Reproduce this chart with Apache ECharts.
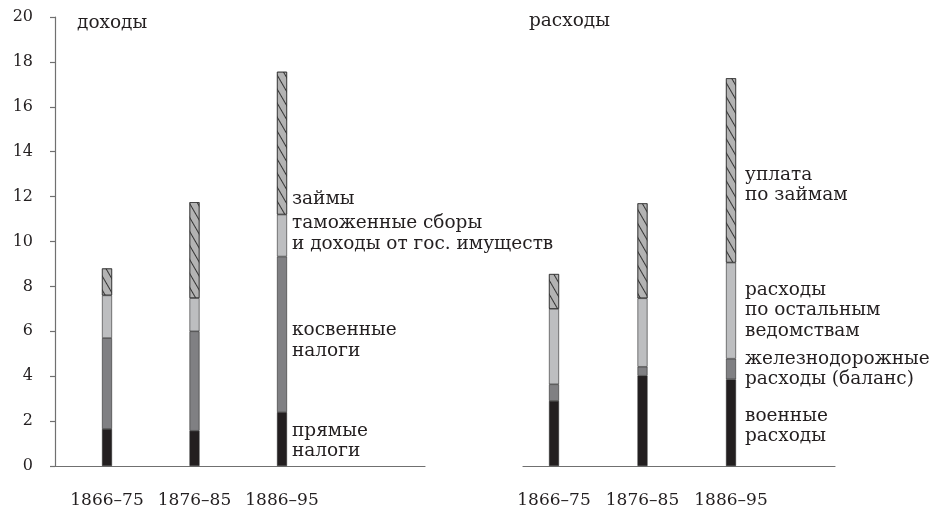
<!DOCTYPE html>
<html>
<head>
<meta charset="utf-8">
<script src="https://cdn.jsdelivr.net/npm/echarts@6/dist/echarts.min.js"></script>
<style>
html,body{margin:0;padding:0;background:#fff;}
#chart{width:934px;height:513px;}
</style>
</head>
<body>
<div id="chart"></div>
<script>
// ---- data ----
const categories = ['1866–75', '1876–85', '1886–95'];
const yTicks = [0, 2, 4, 6, 8, 10, 12, 14, 16, 18, 20];

// доходы (revenue)
const incomeDirect   = [1.65, 1.57, 2.40];   // прямые налоги
const incomeIndirect = [4.05, 4.43, 6.93];   // косвенные налоги
const incomeCustoms  = [1.90, 1.48, 1.87];   // таможенные сборы и доходы от гос. имуществ
const incomeLoans    = [1.20, 4.27, 6.36];   // займы

// расходы (expenditure)
const spendMilitary  = [2.90, 4.02, 3.86];   // военные расходы
const spendRailway   = [0.74, 0.40, 0.92];   // железнодорожные расходы (баланс)
const spendOther     = [3.36, 3.05, 4.28];   // расходы по остальным ведомствам
const spendDebt      = [1.55, 4.23, 8.21];   // уплата по займам

const incomeLabels = ['прямые\nналоги', 'косвенные\nналоги', 'таможенные сборы\nи доходы от гос. имуществ', 'займы'];
const spendLabels  = ['военные\nрасходы', 'железнодорожные\nрасходы (баланс)', 'расходы\nпо остальным\nведомствам', 'уплата\nпо займам'];

// ---- styles ----
const FONT = 'DejaVu Serif';
const TXT = '#231f20';
const AXIS = '#707070';
const fills = ['#231f20', '#808083', '#bdbec0', '#b3b3b3'];
const hatch = {
  symbol: 'rect', symbolSize: 1,
  dashArrayX: [1, 0], dashArrayY: [1, 5.5],
  rotation: Math.PI / 3, color: '#333333'
};
const labelPosLeft  = [['100%', '54%'], ['100%', '54%'], ['100%', '46%'], ['100%', '89%']];
const labelPosRight = [['100%', '54%'], ['100%', '50%'], ['100%', '50%'], ['100%', '58%']];

function makeSeries(name, values, idx, axisIdx, label, pos, gap) {
  return {
    type: 'bar',
    name: name,
    stack: 'g' + axisIdx,
    xAxisIndex: axisIdx,
    yAxisIndex: axisIdx,
    barWidth: 10,
    itemStyle: Object.assign({
      color: fills[idx], borderColor: '#2a2a2a', borderWidth: 0.6
    }, idx === 3 ? { decal: hatch } : {}),
    data: values.map((v, i) => i === categories.length - 1 ? {
      value: v,
      label: {
        show: true, formatter: label, position: pos,
        align: 'left', verticalAlign: 'middle', offset: [gap, 0],
        fontFamily: FONT, fontSize: 18.5, lineHeight: 20.5, color: TXT
      }
    } : v),
    animation: false
  };
}

const yRange = { min: yTicks[0], max: yTicks[yTicks.length - 1], interval: 2 };
const hiddenY = Object.assign({ type: 'value', show: false }, yRange);
const frameX = {
  type: 'value', min: 0, max: 1, splitLine: { show: false },
  axisLine: { show: true, lineStyle: { color: AXIS, width: 1.2 } },
  axisTick: { show: false }, axisLabel: { show: false }
};
const catX = {
  type: 'category', data: categories, boundaryGap: true,
  axisLine: { show: false }, axisTick: { show: false },
  axisLabel: { fontFamily: FONT, fontSize: 17, color: TXT, margin: 26, interval: 0, hideOverlap: false }
};

const option = {
  animation: false,
  title: [
    { text: 'доходы', left: 72, top: 9, textStyle: { fontFamily: FONT, fontSize: 18.5, fontWeight: 'normal', color: TXT } },
    { text: 'расходы', left: 524, top: 7, textStyle: { fontFamily: FONT, fontSize: 18.5, fontWeight: 'normal', color: TXT } }
  ],
  grid: [
    // bar areas
    { left: 63.25, top: 17, width: 262.5, height: 449 },
    { left: 509.75, top: 17, width: 265.5, height: 449 },
    // axis frames
    { left: 55, top: 17, width: 370, height: 449 },
    { left: 523, top: 17, width: 312, height: 449 }
  ],
  xAxis: [
    Object.assign({ gridIndex: 0 }, catX),
    Object.assign({ gridIndex: 1 }, catX),
    Object.assign({ gridIndex: 2 }, frameX),
    Object.assign({ gridIndex: 3 }, frameX)
  ],
  yAxis: [
    Object.assign({ gridIndex: 0 }, hiddenY),
    Object.assign({ gridIndex: 1 }, hiddenY),
    Object.assign({
      type: 'value', gridIndex: 2, splitLine: { show: false },
      axisLine: { show: true, lineStyle: { color: AXIS, width: 1.2 } },
      axisTick: { show: true, length: 5, lineStyle: { color: AXIS, width: 1.2 } },
      axisLabel: { fontFamily: FONT, fontSize: 16, color: TXT, margin: 22 }
    }, yRange),
    Object.assign({ gridIndex: 3 }, hiddenY)
  ],
  series: [
    makeSeries('прямые налоги', incomeDirect, 0, 0, incomeLabels[0], labelPosLeft[0], 5),
    makeSeries('косвенные налоги', incomeIndirect, 1, 0, incomeLabels[1], labelPosLeft[1], 5),
    makeSeries('таможенные сборы', incomeCustoms, 2, 0, incomeLabels[2], labelPosLeft[2], 5),
    makeSeries('займы', incomeLoans, 3, 0, incomeLabels[3], labelPosLeft[3], 5),
    makeSeries('военные расходы', spendMilitary, 0, 1, spendLabels[0], labelPosRight[0], 9),
    makeSeries('железнодорожные расходы', spendRailway, 1, 1, spendLabels[1], labelPosRight[1], 9),
    makeSeries('расходы по остальным ведомствам', spendOther, 2, 1, spendLabels[2], labelPosRight[2], 9),
    makeSeries('уплата по займам', spendDebt, 3, 1, spendLabels[3], labelPosRight[3], 9)
  ]
};

const chart = echarts.init(document.getElementById('chart'), null, { renderer: 'canvas' });
chart.setOption(option);
</script>
</body>
</html>
